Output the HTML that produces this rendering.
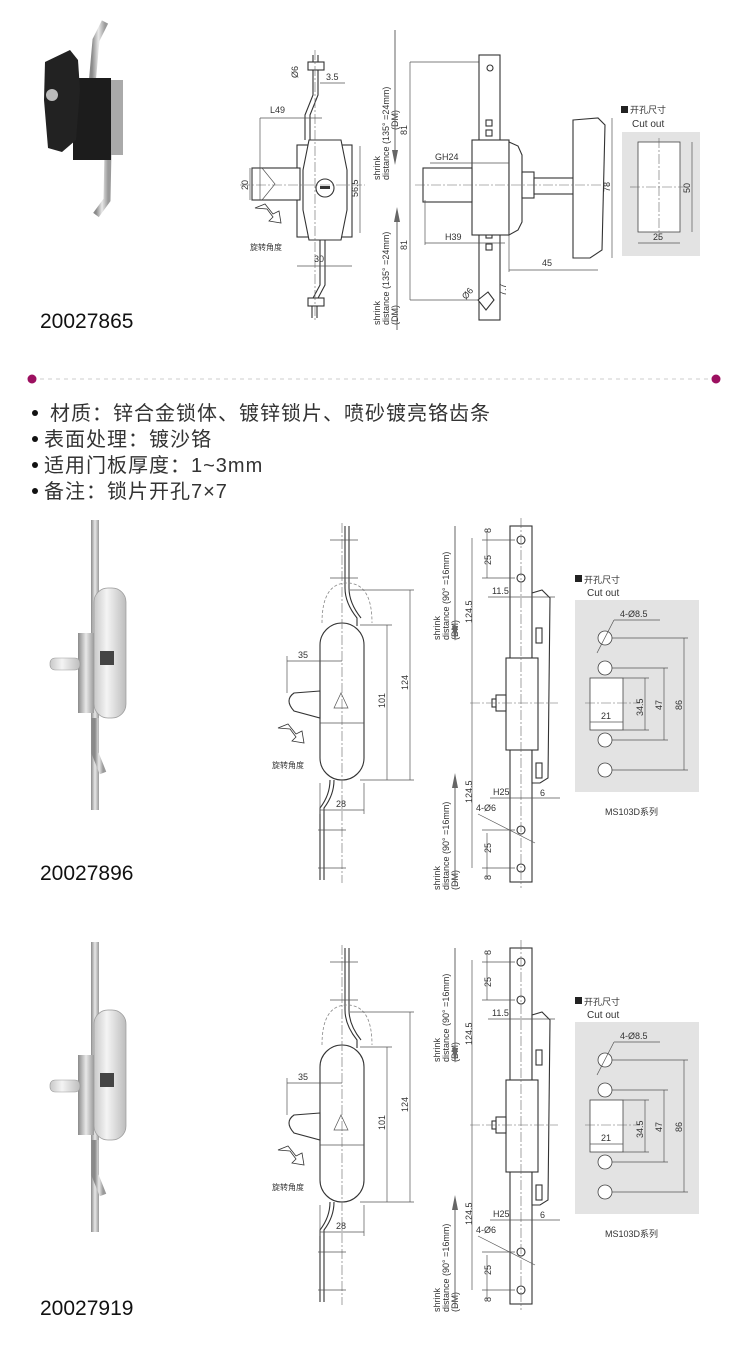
<!DOCTYPE html>
<html><head><meta charset="utf-8"><style>
html,body{margin:0;padding:0;background:#fff;}
svg{display:block;}
text{font-family:"Liberation Sans","Noto Sans CJK SC",sans-serif;fill:#333;}
.d{stroke:#555;stroke-width:0.7;fill:none;}
.o{stroke:#333;stroke-width:1.1;fill:#fff;}
.c{stroke:#666;stroke-width:0.6;fill:none;stroke-dasharray:10 2 2 2;}
.s{font-size:9px;}
</style></head><body>
<svg width="750" height="1350" viewBox="0 0 750 1350" xmlns="http://www.w3.org/2000/svg">
<defs>
<linearGradient id="st" x1="0" x2="1"><stop offset="0" stop-color="#8a8a8a"/><stop offset=".5" stop-color="#e8e8e8"/><stop offset="1" stop-color="#9a9a9a"/></linearGradient>
<linearGradient id="st2" x1="0" x2="1"><stop offset="0" stop-color="#c8c8c8"/><stop offset=".4" stop-color="#f4f4f4"/><stop offset="1" stop-color="#bdbdbd"/></linearGradient>
</defs>

<!-- ============ SECTION 1 ============ -->
<polyline points="105,22 96,40 92,85" stroke="url(#st)" stroke-width="7" fill="none"/>
<polyline points="108,150 107,200 96,215" stroke="url(#st)" stroke-width="7" fill="none"/>
<rect x="108" y="80" width="15" height="75" fill="#aaa"/>
<rect x="73" y="78" width="38" height="82" fill="#1c1c1c"/>
<polygon points="45,62 70,50 78,60 80,90 76,140 62,152 48,148 44,100" fill="#222"/>
<circle cx="52" cy="95" r="6" fill="#bbb"/>
<text x="40" y="328" font-size="21" style="fill:#111">20027865</text>

<polyline class="o" points="313,55 313,95 305,115 305,140" style="fill:none"/>
<polyline class="o" points="318,55 318,95 310,115 310,140" style="fill:none"/>
<polyline class="o" points="320,240 320,285 312,300 312,318" style="fill:none"/>
<polyline class="o" points="325,240 325,285 317,300 317,318" style="fill:none"/>
<rect class="o" x="308" y="62" width="16" height="8"/><rect class="o" x="308" y="298" width="16" height="8"/>
<rect class="o" x="297" y="145" width="55" height="92"/>
<polygon class="o" points="309,140 341,140 347,170 347,210 341,240 309,240 303,210 303,170"/>
<rect class="o" x="252" y="168" width="48" height="32"/>
<polyline class="d" points="262,168 275,184 262,200"/>
<circle class="o" cx="325" cy="188" r="9"/><rect x="320" y="186" width="10" height="3" fill="#333"/>
<line class="c" x1="240" y1="185" x2="365" y2="185"/>
<line class="c" x1="315" y1="50" x2="315" y2="320"/>
<line class="d" x1="260" y1="118" x2="322" y2="118"/><text x="270" y="113" class="s">L49</text>
<line class="d" x1="260" y1="118" x2="260" y2="200"/>
<line class="d" x1="250" y1="168" x2="250" y2="200"/><text class="s" transform="translate(248,190) rotate(-90)">20</text>
<line class="d" x1="360" y1="146" x2="360" y2="233"/><text class="s" transform="translate(358,197) rotate(-90)">56.5</text>
<line class="d" x1="297" y1="266" x2="352" y2="266"/><text x="314" y="262" class="s">30</text>
<text class="s" transform="translate(298,78) rotate(-90)">Ø6</text>
<line class="d" x1="320" y1="83" x2="345" y2="83"/><text x="326" y="80" class="s">3.5</text>
<path d="M255,208 l10,-4 l8,10 l6,-3 l2,12 l-12,-2 l4,-4 l-6,-8 z" fill="#fff" stroke="#333" stroke-width="0.8"/>
<text x="250" y="250" font-size="8">旋转角度</text>
<text class="s" transform="translate(380,180) rotate(-90)">shrink</text>
<text class="s" transform="translate(389,180) rotate(-90)">distance  (135° =24mm)</text>
<text class="s" transform="translate(398,130) rotate(-90)">(DM)</text>
<line x1="395" y1="30" x2="395" y2="160" stroke="#666" stroke-width="1"/><polygon points="392,150 395,165 398,150" fill="#666"/>
<text class="s" transform="translate(380,325) rotate(-90)">shrink</text>
<text class="s" transform="translate(389,325) rotate(-90)">distance  (135° =24mm)</text>
<text class="s" transform="translate(398,325) rotate(-90)">(DM)</text>
<line x1="397" y1="210" x2="397" y2="330" stroke="#666" stroke-width="1"/><polygon points="394,222 397,207 400,222" fill="#666"/>
<line class="d" x1="410" y1="62" x2="410" y2="300"/>
<text class="s" transform="translate(407,135) rotate(-90)">81</text>
<text class="s" transform="translate(407,250) rotate(-90)">81</text>
<line class="d" x1="410" y1="62" x2="488" y2="62"/><line class="d" x1="410" y1="300" x2="488" y2="300"/>
<rect class="o" x="479" y="55" width="21" height="265"/>
<circle class="o" cx="490" cy="68" r="3"/>
<rect class="o" x="486" y="120" width="6" height="6"/><rect class="o" x="486" y="130" width="6" height="6"/>
<rect class="o" x="486" y="232" width="6" height="6"/><rect class="o" x="486" y="244" width="6" height="6"/>
<rect class="o" x="472" y="140" width="37" height="95"/>
<polygon class="o" points="509,142 518,146 522,155 522,222 518,230 509,235"/>
<rect class="o" x="423" y="168" width="49" height="34"/>
<rect class="o" x="522" y="172" width="12" height="26"/>
<rect class="o" x="534" y="178" width="40" height="16"/>
<polygon class="o" points="573,120 598,118 605,125 602,250 590,258 573,258"/>
<line class="c" x1="415" y1="185" x2="610" y2="185"/>
<polygon class="o" points="478,300 488,292 494,300 486,310"/>
<text x="435" y="160" class="s">GH24</text><line class="d" x1="430" y1="163" x2="509" y2="163"/>
<text x="445" y="240" class="s">H39</text><line class="d" x1="425" y1="243" x2="505" y2="243"/><line class="d" x1="425" y1="200" x2="425" y2="245"/>
<line class="d" x1="509" y1="270" x2="598" y2="270"/><text x="542" y="266" class="s">45</text><line class="d" x1="509" y1="230" x2="509" y2="272"/>
<line class="d" x1="612" y1="118" x2="612" y2="258"/><text class="s" transform="translate(610,192) rotate(-90)">78</text>
<text class="s" transform="translate(466,300) rotate(-50)">Ø6</text>
<text class="s" transform="translate(506,296) rotate(-90)">7.7</text>
<rect x="621" y="106" width="7" height="7" fill="#222"/>
<text x="630" y="113" font-size="9">开孔尺寸</text>
<text x="632" y="127" font-size="10">Cut out</text>
<rect x="622" y="132" width="78" height="124" fill="#e3e3e3"/>
<rect x="638" y="142" width="42" height="90" fill="#fff" stroke="#444" stroke-width="0.8"/>
<line class="c" x1="630" y1="187" x2="690" y2="187"/><line class="c" x1="659" y1="138" x2="659" y2="240"/>
<line class="d" x1="692" y1="142" x2="692" y2="232"/><text class="s" transform="translate(690,193) rotate(-90)">50</text>
<line class="d" x1="638" y1="243" x2="680" y2="243"/><text x="653" y="240" class="s">25</text>

<line x1="40" y1="379" x2="710" y2="379" stroke="#ccc" stroke-width="1" stroke-dasharray="4 4"/>
<circle cx="32" cy="379" r="4.5" fill="#9c1060"/>
<circle cx="716" cy="379" r="4.5" fill="#9c1060"/>

<g style="fill:#111">
<circle cx="35" cy="413" r="3" fill="#111"/><text x="50" y="420" font-size="20" letter-spacing="1">材质：锌合金锁体、镀锌锁片、喷砂镀亮铬齿条</text>
<circle cx="35" cy="439" r="3" fill="#111"/><text x="44" y="446" font-size="20" letter-spacing="1">表面处理：镀沙铬</text>
<circle cx="35" cy="465" r="3" fill="#111"/><text x="44" y="472" font-size="20" letter-spacing="1">适用门板厚度：1~3mm</text>
<circle cx="35" cy="491" r="3" fill="#111"/><text x="44" y="498" font-size="20" letter-spacing="1">备注：锁片开孔7×7</text>
</g>

<g transform="translate(0,-422)">
<rect x="91" y="942" width="8" height="290" fill="url(#st)"/>
<rect x="94" y="1010" width="32" height="130" rx="14" fill="url(#st2)" stroke="#999" stroke-width="0.7"/>
<rect x="78" y="1055" width="16" height="80" fill="url(#st)"/>
<rect x="50" y="1080" width="30" height="12" rx="5" fill="url(#st2)" stroke="#999" stroke-width="0.6"/>
<rect x="100" y="1073" width="14" height="14" fill="#444"/>
<polyline points="95,1140 95,1175 103,1195" stroke="url(#st)" stroke-width="7" fill="none"/>
<line class="o" x1="345" y1="948" x2="345" y2="1010"/><line class="o" x1="349" y1="948" x2="349" y2="1010"/>
<path d="M345,1010 q0,15 12,30 l0,8 M349,1010 q0,15 12,30" class="o" style="fill:none"/>
<path d="M322,1045 q0,-40 25,-40 q25,0 25,40" fill="none" stroke="#888" stroke-width="0.8" stroke-dasharray="3 2"/>
<rect class="o" x="320" y="1045" width="44" height="157" rx="22"/>
<line class="d" x1="320" y1="1145" x2="364" y2="1145"/>
<path class="o" d="M320,1113 l-26,2 q-10,7 0,18 l26,7 z"/>
<polygon class="d" points="341,1115 348,1130 334,1130"/>
<path d="M330,1202 q0,15 -10,28 l0,72 M334,1202 q0,15 -10,28 l0,72" class="o" style="fill:none"/>
<line class="c" x1="342" y1="945" x2="342" y2="1305"/>
<g class="d"><line x1="330" y1="962" x2="358" y2="962"/><line x1="330" y1="1000" x2="358" y2="1000"/><line x1="318" y1="1252" x2="346" y2="1252"/><line x1="318" y1="1290" x2="346" y2="1290"/></g>
<line class="d" x1="287" y1="1083" x2="342" y2="1083"/><line class="d" x1="287" y1="1078" x2="287" y2="1115"/><text x="298" y="1080" class="s">35</text>
<line class="d" x1="360" y1="1047" x2="392" y2="1047"/><line class="d" x1="387" y1="1047" x2="387" y2="1202"/><text class="s" transform="translate(385,1130) rotate(-90)">101</text>
<line class="d" x1="350" y1="1012" x2="414" y2="1012"/><line class="d" x1="410" y1="1012" x2="410" y2="1202"/><line class="d" x1="360" y1="1202" x2="414" y2="1202"/><text class="s" transform="translate(408,1112) rotate(-90)">124</text>
<line class="d" x1="320" y1="1232" x2="364" y2="1232"/><line class="d" x1="320" y1="1205" x2="320" y2="1236"/><line class="d" x1="364" y1="1205" x2="364" y2="1236"/><text x="336" y="1229" class="s">28</text>
<path d="M278,1150 l10,-4 l8,10 l6,-3 l2,12 l-12,-2 l4,-4 l-6,-8 z" fill="#fff" stroke="#333" stroke-width="0.8"/>
<text x="272" y="1190" font-size="8">旋转角度</text>
<text class="s" transform="translate(440,1062) rotate(-90)">shrink</text>
<text class="s" transform="translate(449,1062) rotate(-90)">distance   (90° =16mm)</text>
<text class="s" transform="translate(458,1062) rotate(-90)">(DM)</text>
<line x1="455" y1="948" x2="455" y2="1055" stroke="#666" stroke-width="1"/><polygon points="452,1048 455,1063 458,1048" fill="#666"/>
<text class="s" transform="translate(440,1312) rotate(-90)">shrink</text>
<text class="s" transform="translate(449,1312) rotate(-90)">distance   (90° =16mm)</text>
<text class="s" transform="translate(458,1312) rotate(-90)">(DM)</text>
<line x1="455" y1="1205" x2="455" y2="1308" stroke="#666" stroke-width="1"/><polygon points="452,1210 455,1195 458,1210" fill="#666"/>
<line class="d" x1="472" y1="960" x2="472" y2="1290"/>
<text class="s" transform="translate(472,1045) rotate(-90)">124.5</text>
<text class="s" transform="translate(472,1225) rotate(-90)">124.5</text>
<rect class="o" x="510" y="948" width="22" height="356"/>
<g class="o"><circle cx="521" cy="962" r="4"/><circle cx="521" cy="1000" r="4"/><circle cx="521" cy="1252" r="4"/><circle cx="521" cy="1290" r="4"/></g>
<polygon class="o" points="532,1015 542,1012 550,1020 548,1200 540,1205 532,1205"/>
<rect class="o" x="536" y="1050" width="6" height="15"/><rect class="o" x="536" y="1185" width="6" height="15"/>
<rect class="o" x="506" y="1080" width="32" height="92"/>
<rect class="o" x="496" y="1117" width="10" height="16"/><rect class="o" x="492" y="1121" width="4" height="8"/>
<line class="c" x1="470" y1="1125" x2="558" y2="1125"/>
<line class="c" x1="521" y1="940" x2="521" y2="1310"/>
<g class="d"><line x1="487" y1="953" x2="487" y2="1000"/><line x1="482" y1="962" x2="515" y2="962"/><line x1="482" y1="1000" x2="515" y2="1000"/>
<line x1="487" y1="1255" x2="487" y2="1300"/><line x1="482" y1="1252" x2="515" y2="1252"/><line x1="482" y1="1290" x2="515" y2="1290"/>
<line x1="488" y1="1019" x2="555" y2="1019"/><line x1="490" y1="1220" x2="560" y2="1220"/><line x1="478" y1="1236" x2="535" y2="1265"/></g>
<text class="s" transform="translate(491,955) rotate(-90)">8</text>
<text class="s" transform="translate(491,987) rotate(-90)">25</text>
<text class="s" transform="translate(491,1275) rotate(-90)">25</text>
<text class="s" transform="translate(491,1302) rotate(-90)">8</text>
<text x="492" y="1016" class="s">11.5</text>
<text x="493" y="1217" class="s">H25</text>
<text x="540" y="1218" class="s">6</text>
<text x="476" y="1233" class="s">4-Ø6</text>
<rect x="575" y="997" width="7" height="7" fill="#222"/>
<text x="584" y="1005" font-size="9">开孔尺寸</text>
<text x="587" y="1018" font-size="10">Cut out</text>
<rect x="575" y="1022" width="124" height="192" fill="#e3e3e3"/>
<g stroke="#444" stroke-width="0.8" fill="#fff"><circle cx="605" cy="1060" r="7"/><circle cx="605" cy="1090" r="7"/><circle cx="605" cy="1162" r="7"/><circle cx="605" cy="1192" r="7"/>
<rect x="590" y="1100" width="33" height="52"/></g>
<line class="c" x1="585" y1="1125" x2="640" y2="1125"/>
<g class="d"><line x1="612" y1="1060" x2="688" y2="1060"/><line x1="684" y1="1060" x2="684" y2="1192"/><line x1="612" y1="1192" x2="688" y2="1192"/>
<line x1="612" y1="1090" x2="668" y2="1090"/><line x1="664" y1="1090" x2="664" y2="1162"/><line x1="612" y1="1162" x2="668" y2="1162"/>
<line x1="623" y1="1100" x2="649" y2="1100"/><line x1="645" y1="1100" x2="645" y2="1152"/><line x1="623" y1="1152" x2="649" y2="1152"/>
<line x1="590" y1="1144" x2="623" y2="1144"/><line x1="597" y1="1075" x2="614" y2="1042"/><line x1="614" y1="1042" x2="660" y2="1042"/></g>
<text x="620" y="1039" class="s">4-Ø8.5</text>
<text x="601" y="1141" class="s">21</text>
<text class="s" transform="translate(643,1138) rotate(-90)">34.5</text>
<text class="s" transform="translate(662,1132) rotate(-90)">47</text>
<text class="s" transform="translate(682,1132) rotate(-90)">86</text>
<text x="605" y="1237" font-size="9">MS103D系列</text>
</g>
<text x="40" y="880" font-size="21" style="fill:#111">20027896</text>

<g>
<rect x="91" y="942" width="8" height="290" fill="url(#st)"/>
<rect x="94" y="1010" width="32" height="130" rx="14" fill="url(#st2)" stroke="#999" stroke-width="0.7"/>
<rect x="78" y="1055" width="16" height="80" fill="url(#st)"/>
<rect x="50" y="1080" width="30" height="12" rx="5" fill="url(#st2)" stroke="#999" stroke-width="0.6"/>
<rect x="100" y="1073" width="14" height="14" fill="#444"/>
<polyline points="95,1140 95,1175 103,1195" stroke="url(#st)" stroke-width="7" fill="none"/>
<line class="o" x1="345" y1="948" x2="345" y2="1010"/><line class="o" x1="349" y1="948" x2="349" y2="1010"/>
<path d="M345,1010 q0,15 12,30 l0,8 M349,1010 q0,15 12,30" class="o" style="fill:none"/>
<path d="M322,1045 q0,-40 25,-40 q25,0 25,40" fill="none" stroke="#888" stroke-width="0.8" stroke-dasharray="3 2"/>
<rect class="o" x="320" y="1045" width="44" height="157" rx="22"/>
<line class="d" x1="320" y1="1145" x2="364" y2="1145"/>
<path class="o" d="M320,1113 l-26,2 q-10,7 0,18 l26,7 z"/>
<polygon class="d" points="341,1115 348,1130 334,1130"/>
<path d="M330,1202 q0,15 -10,28 l0,72 M334,1202 q0,15 -10,28 l0,72" class="o" style="fill:none"/>
<line class="c" x1="342" y1="945" x2="342" y2="1305"/>
<g class="d"><line x1="330" y1="962" x2="358" y2="962"/><line x1="330" y1="1000" x2="358" y2="1000"/><line x1="318" y1="1252" x2="346" y2="1252"/><line x1="318" y1="1290" x2="346" y2="1290"/></g>
<line class="d" x1="287" y1="1083" x2="342" y2="1083"/><line class="d" x1="287" y1="1078" x2="287" y2="1115"/><text x="298" y="1080" class="s">35</text>
<line class="d" x1="360" y1="1047" x2="392" y2="1047"/><line class="d" x1="387" y1="1047" x2="387" y2="1202"/><text class="s" transform="translate(385,1130) rotate(-90)">101</text>
<line class="d" x1="350" y1="1012" x2="414" y2="1012"/><line class="d" x1="410" y1="1012" x2="410" y2="1202"/><line class="d" x1="360" y1="1202" x2="414" y2="1202"/><text class="s" transform="translate(408,1112) rotate(-90)">124</text>
<line class="d" x1="320" y1="1232" x2="364" y2="1232"/><line class="d" x1="320" y1="1205" x2="320" y2="1236"/><line class="d" x1="364" y1="1205" x2="364" y2="1236"/><text x="336" y="1229" class="s">28</text>
<path d="M278,1150 l10,-4 l8,10 l6,-3 l2,12 l-12,-2 l4,-4 l-6,-8 z" fill="#fff" stroke="#333" stroke-width="0.8"/>
<text x="272" y="1190" font-size="8">旋转角度</text>
<text class="s" transform="translate(440,1062) rotate(-90)">shrink</text>
<text class="s" transform="translate(449,1062) rotate(-90)">distance   (90° =16mm)</text>
<text class="s" transform="translate(458,1062) rotate(-90)">(DM)</text>
<line x1="455" y1="948" x2="455" y2="1055" stroke="#666" stroke-width="1"/><polygon points="452,1048 455,1063 458,1048" fill="#666"/>
<text class="s" transform="translate(440,1312) rotate(-90)">shrink</text>
<text class="s" transform="translate(449,1312) rotate(-90)">distance   (90° =16mm)</text>
<text class="s" transform="translate(458,1312) rotate(-90)">(DM)</text>
<line x1="455" y1="1205" x2="455" y2="1308" stroke="#666" stroke-width="1"/><polygon points="452,1210 455,1195 458,1210" fill="#666"/>
<line class="d" x1="472" y1="960" x2="472" y2="1290"/>
<text class="s" transform="translate(472,1045) rotate(-90)">124.5</text>
<text class="s" transform="translate(472,1225) rotate(-90)">124.5</text>
<rect class="o" x="510" y="948" width="22" height="356"/>
<g class="o"><circle cx="521" cy="962" r="4"/><circle cx="521" cy="1000" r="4"/><circle cx="521" cy="1252" r="4"/><circle cx="521" cy="1290" r="4"/></g>
<polygon class="o" points="532,1015 542,1012 550,1020 548,1200 540,1205 532,1205"/>
<rect class="o" x="536" y="1050" width="6" height="15"/><rect class="o" x="536" y="1185" width="6" height="15"/>
<rect class="o" x="506" y="1080" width="32" height="92"/>
<rect class="o" x="496" y="1117" width="10" height="16"/><rect class="o" x="492" y="1121" width="4" height="8"/>
<line class="c" x1="470" y1="1125" x2="558" y2="1125"/>
<line class="c" x1="521" y1="940" x2="521" y2="1310"/>
<g class="d"><line x1="487" y1="953" x2="487" y2="1000"/><line x1="482" y1="962" x2="515" y2="962"/><line x1="482" y1="1000" x2="515" y2="1000"/>
<line x1="487" y1="1255" x2="487" y2="1300"/><line x1="482" y1="1252" x2="515" y2="1252"/><line x1="482" y1="1290" x2="515" y2="1290"/>
<line x1="488" y1="1019" x2="555" y2="1019"/><line x1="490" y1="1220" x2="560" y2="1220"/><line x1="478" y1="1236" x2="535" y2="1265"/></g>
<text class="s" transform="translate(491,955) rotate(-90)">8</text>
<text class="s" transform="translate(491,987) rotate(-90)">25</text>
<text class="s" transform="translate(491,1275) rotate(-90)">25</text>
<text class="s" transform="translate(491,1302) rotate(-90)">8</text>
<text x="492" y="1016" class="s">11.5</text>
<text x="493" y="1217" class="s">H25</text>
<text x="540" y="1218" class="s">6</text>
<text x="476" y="1233" class="s">4-Ø6</text>
<rect x="575" y="997" width="7" height="7" fill="#222"/>
<text x="584" y="1005" font-size="9">开孔尺寸</text>
<text x="587" y="1018" font-size="10">Cut out</text>
<rect x="575" y="1022" width="124" height="192" fill="#e3e3e3"/>
<g stroke="#444" stroke-width="0.8" fill="#fff"><circle cx="605" cy="1060" r="7"/><circle cx="605" cy="1090" r="7"/><circle cx="605" cy="1162" r="7"/><circle cx="605" cy="1192" r="7"/>
<rect x="590" y="1100" width="33" height="52"/></g>
<line class="c" x1="585" y1="1125" x2="640" y2="1125"/>
<g class="d"><line x1="612" y1="1060" x2="688" y2="1060"/><line x1="684" y1="1060" x2="684" y2="1192"/><line x1="612" y1="1192" x2="688" y2="1192"/>
<line x1="612" y1="1090" x2="668" y2="1090"/><line x1="664" y1="1090" x2="664" y2="1162"/><line x1="612" y1="1162" x2="668" y2="1162"/>
<line x1="623" y1="1100" x2="649" y2="1100"/><line x1="645" y1="1100" x2="645" y2="1152"/><line x1="623" y1="1152" x2="649" y2="1152"/>
<line x1="590" y1="1144" x2="623" y2="1144"/><line x1="597" y1="1075" x2="614" y2="1042"/><line x1="614" y1="1042" x2="660" y2="1042"/></g>
<text x="620" y="1039" class="s">4-Ø8.5</text>
<text x="601" y="1141" class="s">21</text>
<text class="s" transform="translate(643,1138) rotate(-90)">34.5</text>
<text class="s" transform="translate(662,1132) rotate(-90)">47</text>
<text class="s" transform="translate(682,1132) rotate(-90)">86</text>
<text x="605" y="1237" font-size="9">MS103D系列</text>
</g>
<text x="40" y="1315" font-size="21" style="fill:#111">20027919</text>
</svg>
</body></html>
